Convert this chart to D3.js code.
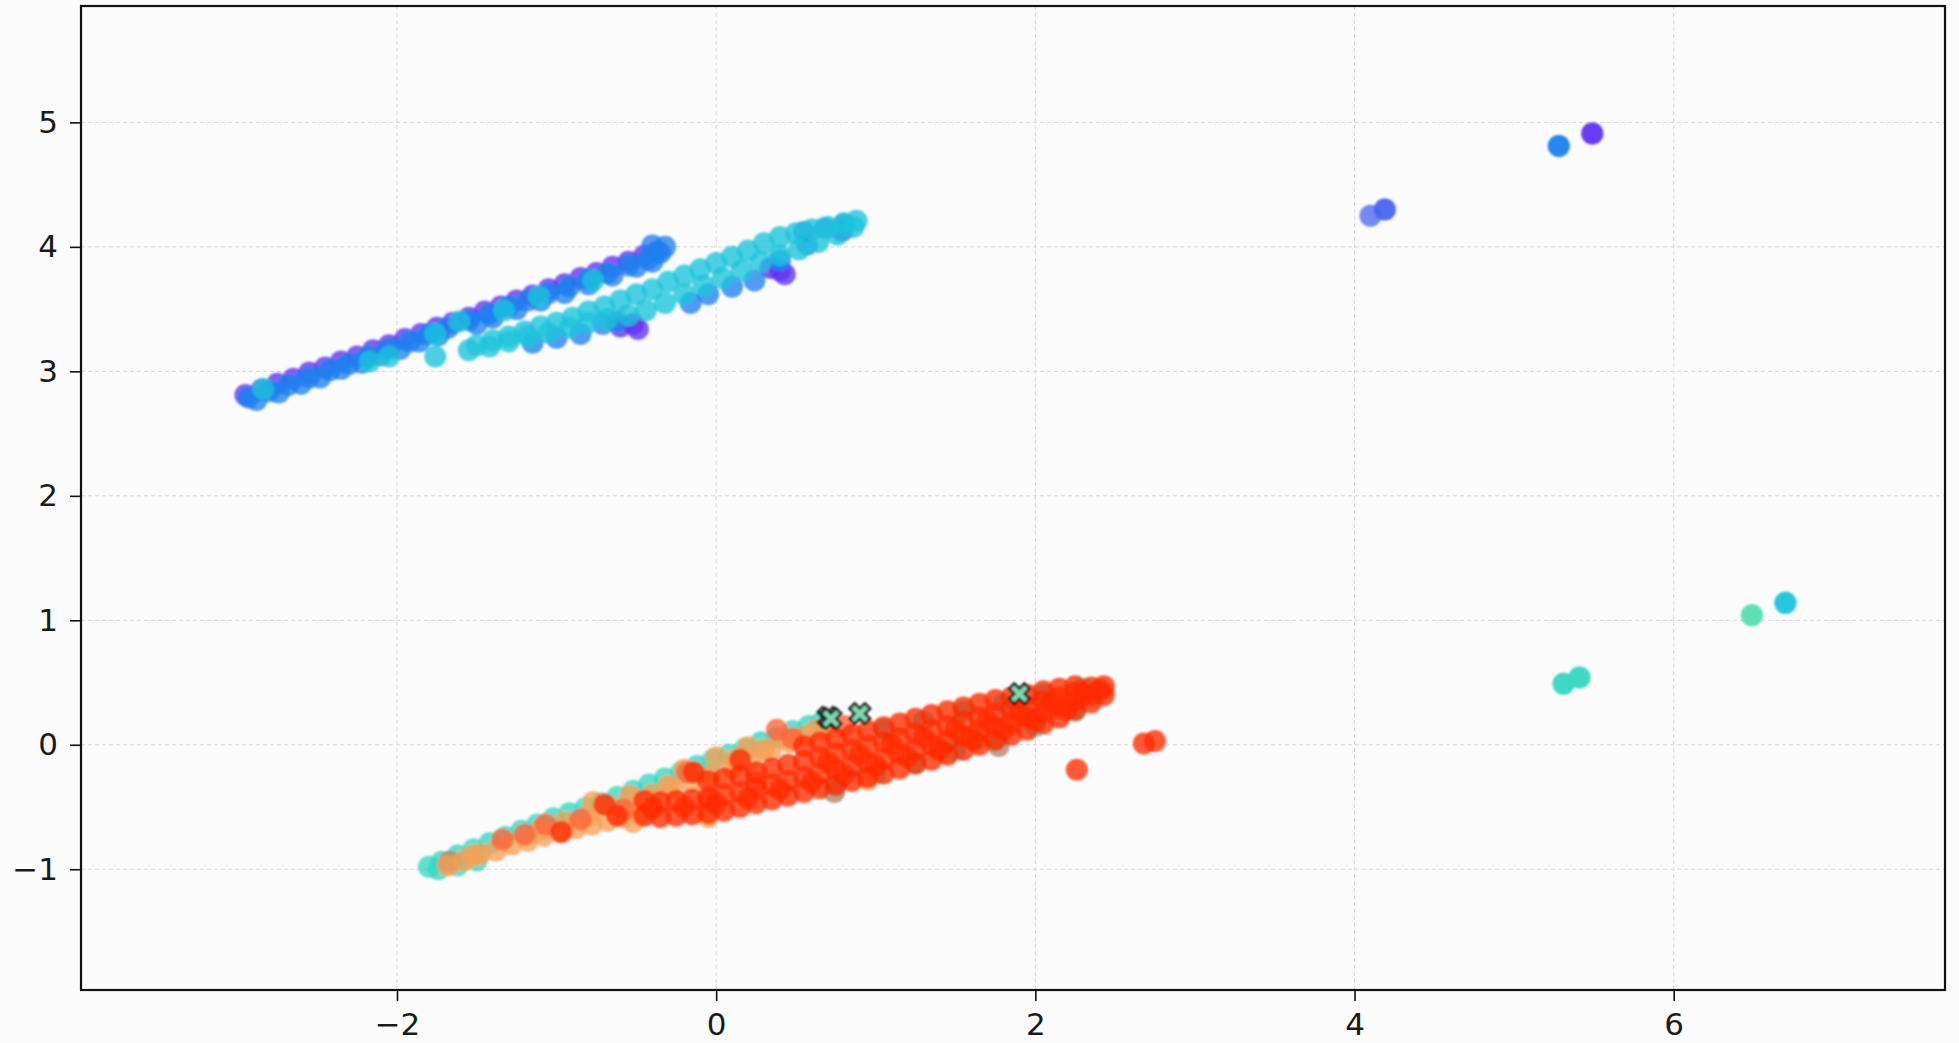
<!DOCTYPE html>
<html>
<head>
<meta charset="utf-8">
<script src="https://cdn.jsdelivr.net/npm/d3@7"></script>
<style>
  html, body { margin: 0; padding: 0; background: #fbfbfb; }
  svg { display: block; }
</style>
</head>
<body>
<svg class="svg"></svg>
<script>
// axis limits and ticks
const xDomain = [-3.98, 7.70];
const yDomain = [-1.97, 5.935];
const xTicks = [-2, 0, 2, 4, 6];
const yTicks = [-1, 0, 1, 2, 3, 4, 5];

// upper cluster
const purplePts = [
  [-2.95,2.81],[-2.85,2.85],[-2.75,2.90],[-2.65,2.94],[-2.55,2.99],[-2.45,3.03],[-2.35,3.08],[-2.25,3.12],
  [-2.15,3.17],[-2.05,3.21],[-1.95,3.26],[-1.85,3.30],[-1.75,3.35],[-1.65,3.39],[-1.55,3.43],[-1.45,3.48],
  [-1.35,3.52],[-1.25,3.57],[-1.15,3.61],[-1.05,3.66],[-0.95,3.70],[-0.85,3.75],[-0.75,3.79],[-0.65,3.84],
  [-0.55,3.88],[-0.45,3.93],[-0.37,3.96],
  [-0.60,3.36],[-0.49,3.34],[-0.52,3.38],[0.34,3.83],[0.43,3.78],[0.40,3.81],[0.79,4.13],
  [5.49,4.91],[5.49,4.91]
];
const indigoPts = [[4.10,4.25],[4.19,4.30],[4.19,4.30]];
const bluePts = [
  [-2.93,2.79],[-2.80,2.84],[-2.68,2.89],[-2.55,2.95],[-2.42,3.01],[-2.30,3.06],[-2.18,3.12],[-2.05,3.18],
  [-1.92,3.24],[-1.80,3.30],[-1.68,3.35],[-1.55,3.41],[-1.42,3.46],[-1.30,3.52],[-1.18,3.57],[-1.05,3.63],
  [-0.92,3.68],[-0.80,3.74],[-0.68,3.79],[-0.55,3.85],[-0.43,3.90],[-0.35,3.95],[-0.32,4.00],[-0.40,4.01],
  [-2.60,2.90],[-2.35,3.02],[-2.10,3.13],[-1.86,3.24],
  [-2.88,2.77],[-2.74,2.83],[-2.48,2.95],[-2.22,3.07],[-1.98,3.18],[-1.74,3.29],[-1.50,3.38],
  [-1.40,3.43],[-1.25,3.50],[-1.10,3.57],[-0.95,3.63],[-0.80,3.70],[-0.65,3.77],[-0.50,3.84],[-0.40,3.88],
  [-1.15,3.23],[-1.00,3.27],[-0.85,3.30],[-0.71,3.38],[-0.62,3.40],[-0.16,3.55],[-0.05,3.62],[0.10,3.68],
  [0.24,3.73],[0.40,3.89],[0.57,4.02],[0.55,4.12],[0.68,4.15],[0.80,4.18],
  [5.28,4.81],[5.28,4.81]
];
const cyanPts = [
  [-2.84,2.86],[-2.17,3.08],[-2.05,3.12],[-1.76,3.30],[-1.76,3.12],[-1.61,3.40],[-1.33,3.49],[-1.11,3.60],[-0.77,3.73],
  [-1.50,3.21],[-1.40,3.25],[-1.30,3.28],[-1.20,3.32],[-1.10,3.36],[-1.00,3.39],[-0.90,3.43],[-0.80,3.48],
  [-0.70,3.52],[-0.60,3.57],[-0.50,3.62],[-0.40,3.66],[-0.30,3.72],[-0.20,3.77],[-0.10,3.82],[0.00,3.87],
  [0.10,3.92],[0.20,3.97],[0.30,4.03],[0.40,4.08],[0.50,4.11],[0.60,4.14],[0.70,4.16],[0.80,4.19],[0.88,4.21],
  [-1.55,3.17],[-1.42,3.20],[-1.30,3.24],[-1.18,3.28],[-1.05,3.31],[-0.92,3.35],[-0.80,3.39],[-0.68,3.42],
  [-0.55,3.45],[-0.44,3.49],[-0.32,3.55],[-0.20,3.62],[-0.08,3.69],[0.04,3.75],[0.16,3.81],[0.28,3.88],
  [0.40,3.93],[0.52,3.98],[0.64,4.04],[0.76,4.10],[0.86,4.16],
  [6.70,1.14],[6.70,1.14]
];

// lower cluster
const tealPts = [
  [-1.80,-0.98],[-1.72,-0.94],[-1.62,-0.89],[-1.52,-0.84],[-1.42,-0.79],[-1.32,-0.74],[-1.22,-0.69],[-1.12,-0.64],
  [-1.02,-0.59],[-0.92,-0.55],[-0.82,-0.51],[-0.72,-0.47],[-0.62,-0.42],[-0.52,-0.37],[-0.42,-0.32],[-0.32,-0.27],
  [-0.22,-0.22],[-0.12,-0.17],[-0.02,-0.12],[0.08,-0.08],[0.18,-0.03],[0.28,0.02],[0.38,0.06],[0.48,0.11],
  [0.58,0.15],[0.66,0.18],
  [-1.74,-1.00],[-1.62,-0.97],[-1.50,-0.93],
  [1.05,0.12],[1.30,0.19],[1.55,0.27],[1.80,0.33],[2.05,0.40],[2.30,0.45],
  [0.75,-0.33],[1.00,-0.24],[1.25,-0.15],[1.50,-0.05],[1.75,0.04],[2.00,0.15],[2.25,0.27],
  [5.31,0.49],[5.31,0.49],[5.41,0.54],[5.41,0.54]
];
const mintPts = [[6.49,1.04],[6.49,1.04]];
const brownPts = [[-1.67,-0.94],[0.74,-0.38],[1.63,0.04],[1.77,-0.01]];
const orangePts = [
  [-1.68,-0.97],[-1.58,-0.93],[-1.48,-0.88],[-1.38,-0.85],[-1.28,-0.80],[-1.18,-0.77],[-1.08,-0.73],
  [-0.98,-0.70],[-0.88,-0.67],[-0.78,-0.64],[-0.68,-0.61],[-0.58,-0.58],[-0.48,-0.56],
  [-1.10,-0.68],[-0.95,-0.62],[-0.80,-0.57],[-0.65,-0.51],[-0.52,-0.46],[-0.40,-0.40],[-0.28,-0.35],
  [-0.16,-0.30],[-0.04,-0.25],[0.10,-0.18],[0.22,-0.12],[0.34,-0.05],[0.46,0.02],[0.56,0.07],[0.68,0.12],
  [-1.52,-0.89],[-0.54,-0.41],[-0.30,-0.33],[0.12,-0.12],[0.30,-0.04],[0.63,0.12],
  [-0.77,-0.46],[-0.52,-0.62],[-0.20,-0.20],[0.00,-0.10],[0.20,-0.02],[0.42,0.06],
  [-0.05,-0.58],[0.95,-0.28],[1.40,-0.05]
];
const redOrangePts = [
  [-1.34,-0.76],[-1.20,-0.72],[-1.07,-0.64],[-0.85,-0.60],[-0.58,-0.52],[-0.18,-0.22],[-0.05,-0.45],
  [0.25,-0.30],[0.38,0.12],[0.48,0.05],[0.80,0.15]
];
const redPts = [
  [-0.97,-0.70],[-0.62,-0.57],[-0.70,-0.48],
  [-0.45,-0.57],[-0.45,-0.45],
  [-0.35,-0.58],[-0.35,-0.46],
  [-0.25,-0.57],[-0.25,-0.45],
  [-0.15,-0.56],[-0.15,-0.44],[-0.14,-0.22],
  [-0.05,-0.55],[-0.05,-0.42],[-0.05,-0.29],
  [0.05,-0.53],[0.05,-0.40],[0.05,-0.27],
  [0.15,-0.50],[0.15,-0.38],[0.15,-0.25],[0.15,-0.12],
  [0.25,-0.47],[0.25,-0.35],[0.25,-0.22],
  [0.35,-0.44],[0.35,-0.32],[0.35,-0.19],
  [0.45,-0.41],[0.45,-0.29],[0.45,-0.16],
  [0.55,-0.38],[0.55,-0.26],[0.55,-0.13],[0.55,-0.01],
  [0.65,-0.35],[0.65,-0.23],[0.65,-0.10],[0.65,0.02],
  [0.75,-0.32],[0.75,-0.20],[0.75,-0.07],[0.75,0.05],
  [0.85,-0.29],[0.85,-0.17],[0.85,-0.04],[0.85,0.08],
  [0.95,-0.26],[0.95,-0.14],[0.95,-0.01],[0.95,0.11],
  [1.05,-0.23],[1.05,-0.11],[1.05,0.02],[1.05,0.14],
  [1.15,-0.19],[1.15,-0.07],[1.15,0.05],[1.15,0.17],
  [1.25,-0.15],[1.25,-0.04],[1.25,0.09],[1.25,0.21],
  [1.35,-0.12],[1.35,0.00],[1.35,0.12],[1.35,0.24],
  [1.45,-0.08],[1.45,0.03],[1.45,0.15],[1.45,0.27],
  [1.55,-0.04],[1.55,0.07],[1.55,0.19],[1.55,0.30],
  [1.65,0.00],[1.65,0.11],[1.65,0.22],[1.65,0.33],
  [1.75,0.04],[1.75,0.14],[1.75,0.25],[1.75,0.36],
  [1.85,0.08],[1.85,0.18],[1.85,0.28],[1.85,0.38],
  [1.95,0.12],[1.95,0.22],[1.95,0.31],[1.95,0.40],
  [2.05,0.17],[2.05,0.26],[2.05,0.35],[2.05,0.43],
  [2.15,0.22],[2.15,0.30],[2.15,0.38],[2.15,0.45],
  [2.25,0.28],[2.25,0.35],[2.25,0.42],[2.25,0.47],
  [2.35,0.34],[2.35,0.40],[2.35,0.46],
  [2.43,0.40],[2.43,0.47],
  [-0.40,-0.51],[-0.20,-0.50],[0.00,-0.47],[0.20,-0.43],[0.40,-0.36],[0.60,-0.30],[0.70,-0.14],
  [0.80,-0.24],[0.90,-0.08],[1.00,-0.17],[1.10,0.00],[1.20,-0.10],[1.30,0.06],[1.40,-0.03],[1.50,0.12],
  [1.60,0.05],[1.70,0.19],[1.80,0.12],[1.90,0.25],[2.00,0.20],[2.10,0.33],[2.20,0.28],[2.30,0.41],[2.40,0.44],
  [2.26,-0.20],[2.68,0.01],[2.75,0.03]
];
const markerPts = [[0.70,0.22],[0.72,0.21],[0.90,0.25],[1.90,0.41]];

// draw order and colours
const groups = [
  { key: "purple", pts: purplePts },
  { key: "indigo", pts: indigoPts },
  { key: "blue", pts: bluePts },
  { key: "cyan", pts: cyanPts },
  { key: "teal", pts: tealPts },
  { key: "mint", pts: mintPts },
  { key: "brown", pts: brownPts },
  { key: "orange", pts: orangePts },
  { key: "redOrange", pts: redOrangePts },
  { key: "red", pts: redPts }
];
const colors = {
  purple: "#6232f0", indigo: "#4c66f0", blue: "#1e82f0", cyan: "#1cc4dc",
  teal: "#38d6c2", mint: "#55dfae", brown: "#b08468", orange: "#f7a056",
  redOrange: "#ff6438", red: "#ff2a00"
};

const width = 1959, height = 1043;
const margin = { top: 6, right: 14, bottom: 53, left: 81 };

const svg = d3.select(".svg").attr("width", width).attr("height", height);

const x = d3.scaleLinear().domain(xDomain).range([margin.left, width - margin.right]);
const y = d3.scaleLinear().domain(yDomain).range([height - margin.bottom, margin.top]);

svg.append("rect")
  .attr("x", 0).attr("y", 0).attr("width", width).attr("height", height)
  .attr("fill", "#fbfbfb");

svg.append("defs").append("filter").attr("id", "soft")
  .append("feGaussianBlur").attr("stdDeviation", 1);

// grid
const grid = svg.append("g").attr("stroke", "#d8d8d8").attr("stroke-width", 1).attr("stroke-dasharray", "4,3");
grid.selectAll("line.gx").data(xTicks).join("line").attr("class", "gx")
  .attr("x1", d => x(d)).attr("x2", d => x(d))
  .attr("y1", margin.top).attr("y2", height - margin.bottom);
grid.selectAll("line.gy").data(yTicks).join("line").attr("class", "gy")
  .attr("y1", d => y(d)).attr("y2", d => y(d))
  .attr("x1", margin.left).attr("x2", width - margin.right);

// points
const plot = svg.append("g").attr("filter", "url(#soft)");
groups.forEach(g => {
  plot.append("g")
    .selectAll("circle")
    .data(g.pts)
    .join("circle")
    .attr("cx", d => x(d[0]))
    .attr("cy", d => y(d[1]))
    .attr("r", 11)
    .attr("fill", colors[g.key])
    .attr("fill-opacity", 0.78);
});

// X markers
plot.append("g")
  .selectAll("path")
  .data(markerPts)
  .join("path")
  .attr("d", d3.symbol(d3.symbolCross, 260))
  .attr("transform", d => `translate(${x(d[0])},${y(d[1])}) rotate(45)`)
  .attr("fill", "#80d8b0")
  .attr("stroke", "#111")
  .attr("stroke-width", 2.5);

// axes
const fmt = d3.format("d");
const xAxis = svg.append("g")
  .attr("transform", `translate(0,${height - margin.bottom})`)
  .call(d3.axisBottom(x).tickValues(xTicks).tickSize(11).tickPadding(12).tickFormat(fmt));
const yAxis = svg.append("g")
  .attr("transform", `translate(${margin.left},0)`)
  .call(d3.axisLeft(y).tickValues(yTicks).tickSize(11).tickPadding(12).tickFormat(fmt));

[xAxis, yAxis].forEach(a => {
  a.select(".domain").remove();
  a.selectAll(".tick line").attr("stroke", "#111").attr("stroke-width", 1.6);
  a.selectAll(".tick text")
    .attr("fill", "#1a1a1a")
    .style("font-family", "'DejaVu Sans', sans-serif")
    .style("font-size", "31px");
});

// frame
svg.append("rect")
  .attr("x", margin.left).attr("y", margin.top)
  .attr("width", width - margin.left - margin.right)
  .attr("height", height - margin.top - margin.bottom)
  .attr("fill", "none")
  .attr("stroke", "#111")
  .attr("stroke-width", 2.2);
</script>
</body>
</html>
